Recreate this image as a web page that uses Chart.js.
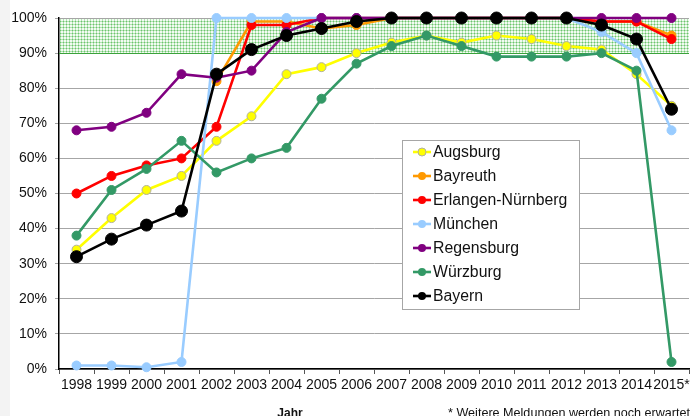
<!DOCTYPE html>
<html>
<head>
<meta charset="utf-8">
<script src="https://cdn.jsdelivr.net/npm/chart.js@4/dist/chart.umd.min.js"></script>
<style>
  html, body { margin: 0; padding: 0; background: #ffffff; }
  #wrap { position: relative; width: 699px; height: 416px; overflow: hidden;
          background: linear-gradient(to right, #f3f3f3 0, #f3f3f3 10px, #ffffff 10px); }
  canvas { position: absolute; left: 0; top: 0; }
</style>
</head>
<body>
<div id="wrap"><canvas id="c" width="699" height="416"></canvas></div>
<script>
const years = ['1998','1999','2000','2001','2002','2003','2004','2005','2006','2007','2008','2009','2010','2011','2012','2013','2014','2015*'];
const augsburg   = [34, 43, 51, 55, 65, 72, 84, 86, 90, 93, 95, 93, 95, 94, 92, 91, 84, 75];
const bayreuth   = [null, null, null, null, 82, 99, 99, 97, 98, 100, 100, 100, 100, 100, 100, 99, 99, 95];
const erlangen   = [50, 55, 58, 60, 69, 98, 98, 100, 100, 100, 100, 100, 100, 100, 100, 99, 99, 94];
const muenchen   = [1, 1, 0.5, 2, 100, 100, 100, 100, 100, 100, 100, 100, 100, 100, 100, 96, 90, 68];
const regensburg = [68, 69, 73, 84, 83, 85, 96, 100, 100, 100, 100, 100, 100, 100, 100, 100, 100, 100];
const wuerzburg  = [38, 51, 57, 65, 56, 60, 63, 77, 87, 92, 95, 92, 89, 89, 89, 90, 85, 2];
const bayern     = [32, 37, 41, 45, 84, 91, 95, 97, 99, 100, 100, 100, 100, 100, 100, 98, 94, 74];
const yTicks = [0, 10, 20, 30, 40, 50, 60, 70, 80, 90, 100];
const bandRange = [90, 100];
const xTitle = 'Jahr';
const footnote = '* Weitere Meldungen werden noch erwartet';

function ds(label, data, color, border, order, radius) {
  return {
    label, data, order,
    borderColor: color,
    backgroundColor: color,
    pointBackgroundColor: color,
    pointBorderColor: border || color,
    pointBorderWidth: 1,
    pointRadius: radius || 4.5,
    pointHoverRadius: radius || 4.5,
    borderWidth: 2.6,
    tension: 0,
    spanGaps: false,
    clip: false
  };
}

const datasets = [
  ds('Augsburg', augsburg, '#ffff00', '#b0b0a0', 6),
  ds('Bayreuth', bayreuth, '#ff9900', null, 5),
  ds('Erlangen-Nürnberg', erlangen, '#ff0000', null, 4),
  ds('München', muenchen, '#99ccff', null, 3),
  ds('Regensburg', regensburg, '#800080', null, 2),
  ds('Würzburg', wuerzburg, '#339966', null, 1),
  ds('Bayern', bayern, '#000000', null, 0, 6)
];

function makePattern(ctx) {
  const p = document.createElement('canvas');
  p.width = 3; p.height = 3;
  const g = p.getContext('2d');
  g.fillStyle = '#f2fbf2';
  g.fillRect(0, 0, 3, 3);
  g.fillStyle = '#b2e2b2';
  g.fillRect(0, 0, 3, 1);
  g.fillRect(0, 0, 1, 3);
  g.fillStyle = '#6cc46c';
  g.fillRect(0, 0, 1, 1);
  return ctx.createPattern(p, 'repeat');
}

const bandPlugin = {
  id: 'band',
  beforeDatasetsDraw(chart) {
    const { ctx, chartArea, scales } = chart;
    const yTop = scales.y.getPixelForValue(bandRange[1]);
    const yBot = scales.y.getPixelForValue(bandRange[0]);
    ctx.save();
    ctx.fillStyle = makePattern(ctx);
    ctx.fillRect(chartArea.left + 1, yTop + 1, chartArea.right - chartArea.left - 1, yBot - yTop - 1);
    ctx.strokeStyle = '#3aa23a';
    ctx.lineWidth = 1;
    ctx.beginPath();
    ctx.moveTo(chartArea.left, Math.round(yBot) + 0.5);
    ctx.lineTo(chartArea.right, Math.round(yBot) + 0.5);
    ctx.stroke();
    ctx.restore();
  }
};

const legendPlugin = {
  id: 'customLegend',
  afterDraw(chart) {
    const { ctx } = chart;
    const x0 = 402, y0 = 140, w = 177, h = 169;
    ctx.save();
    ctx.fillStyle = '#ffffff';
    ctx.fillRect(x0, y0, w, h);
    ctx.strokeStyle = '#a6a6a6';
    ctx.lineWidth = 1;
    ctx.strokeRect(x0 + 0.5, y0 + 0.5, w, h);
    ctx.font = '15.8px "Liberation Sans", Arial, sans-serif';
    ctx.textBaseline = 'middle';
    chart.data.datasets.forEach((d, i) => {
      const y = 152 + i * 24;
      ctx.strokeStyle = d.borderColor;
      ctx.lineWidth = 2.6;
      ctx.beginPath();
      ctx.moveTo(413, y);
      ctx.lineTo(431, y);
      ctx.stroke();
      ctx.beginPath();
      ctx.arc(422, y, 4, 0, Math.PI * 2);
      ctx.fillStyle = d.pointBackgroundColor;
      ctx.fill();
      if (d.pointBorderColor !== d.pointBackgroundColor) {
        ctx.lineWidth = 1;
        ctx.strokeStyle = d.pointBorderColor;
        ctx.stroke();
      }
      ctx.fillStyle = '#111111';
      ctx.fillText(d.label, 433, y + 1);
    });
    ctx.font = 'bold 12px "Liberation Sans", Arial, sans-serif';
    ctx.textBaseline = 'alphabetic';
    ctx.textAlign = 'center';
    ctx.fillStyle = '#111111';
    ctx.fillText(xTitle, 290, 417);
    ctx.font = '12.6px "Liberation Sans", Arial, sans-serif';
    ctx.textAlign = 'right';
    ctx.fillText(footnote, 690, 417);
    ctx.restore();
  }
};

new Chart(document.getElementById('c'), {
  type: 'line',
  data: { labels: years, datasets },
  plugins: [bandPlugin, legendPlugin],
  options: {
    responsive: false,
    animation: false,
    events: [],
    layout: { padding: { left: 0, right: 10, top: 18, bottom: 0 } },
    plugins: { legend: { display: false }, tooltip: { enabled: false } },
    scales: {
      x: {
        offset: true,
        grid: { offset: true, display: true, drawOnChartArea: false, drawTicks: true, tickLength: 5, color: '#555555' },
        border: { display: true, color: '#000000', width: 1.5 },
        ticks: { color: '#111111', font: { family: '"Liberation Sans", Arial, sans-serif', size: 14 }, padding: 3, maxRotation: 0, autoSkip: false },
        afterFit(s) { s.height = 47; }
      },
      y: {
        min: 0, max: 100,
        afterBuildTicks(s) { s.ticks = yTicks.map(v => ({ value: v })); },
        grid: { color: '#a6a6a6', lineWidth: 1, tickLength: 4, drawTicks: true },
        border: { display: true, color: '#000000', width: 1.5 },
        ticks: { color: '#111111', font: { family: '"Liberation Sans", Arial, sans-serif', size: 14 }, padding: 8,
                 callback: v => v + '%' },
        afterFit(s) { s.width = 59; }
      }
    }
  }
});
</script>
</body>
</html>
